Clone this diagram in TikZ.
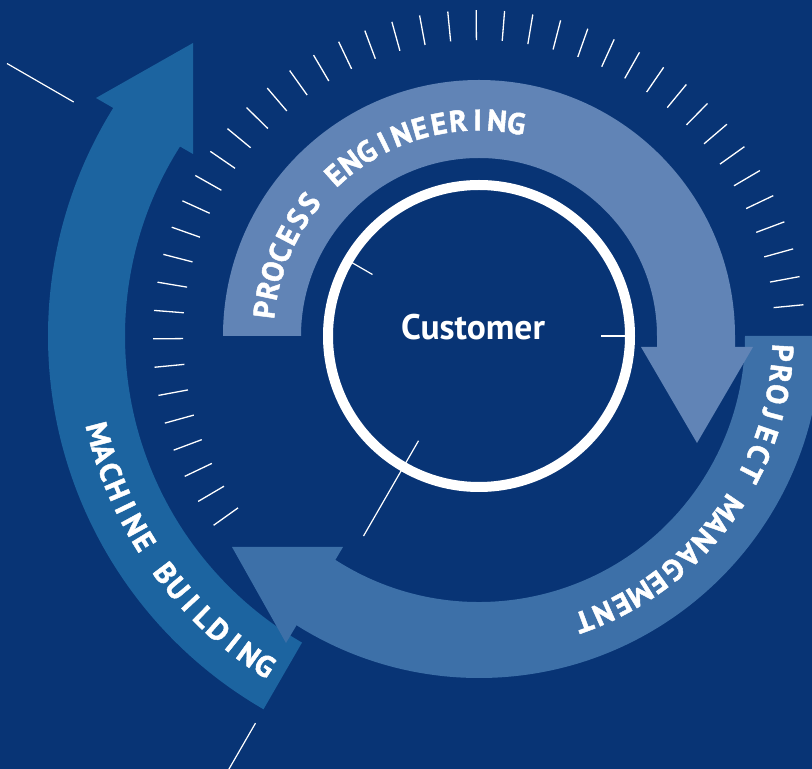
\documentclass[tikz,border=0pt]{standalone}
\usepackage{fontspec}
\setmainfont{PT Sans}
\usetikzlibrary{calc}
\definecolor{bgblue}{RGB}{8,52,117}
\definecolor{pecol}{RGB}{97,132,182}
\definecolor{pmcol}{RGB}{61,112,168}
\definecolor{mbcol}{RGB}{28,100,160}
\newlength\lbChW
\newlength\lbTotW
\newcount\lbN
\newcommand\arcfont{\normalfont\bfseries\fontsize{30pt}{32pt}\selectfont\addfontfeature{FakeBold=1.5}}
% #1 start angle, #2 end angle, #3 baseline radius, #4 advance radius, #5 rotation offset, #6 word space, #7 letters
\newcommand\arclabel[7]{%
  \global\lbTotW=0pt \global\lbN=0
  \foreach \ch in {#7}{%
    \if\ch*\global\advance\lbTotW by #6pt
    \else\settowidth\lbChW{\arcfont\ch}\global\advance\lbTotW by \lbChW\fi
    \global\advance\lbN by 1
  }%
  \pgfmathsetmacro\lbSgn{ifthenelse(#2>#1,1,-1)}%
  \pgfmathsetmacro\lbGapW{max(0,(abs(#2-#1)*pi/180*#4 - \lbTotW)/(\lbN-1))}%
  \xdef\lbCur{#1}%
  \foreach \ch in {#7}{%
    \if\ch*\setlength\lbChW{#6pt}\else\settowidth\lbChW{\arcfont\ch}\fi
    \pgfmathsetmacro\lbDa{\lbChW/#4*180/pi}%
    \pgfmathsetmacro\lbGa{\lbGapW/#4*180/pi}%
    \pgfmathsetmacro\lbMid{\lbCur+\lbSgn*\lbDa/2}%
    \pgfmathsetmacro\lbRot{\lbMid+(#5)}%
    \if\ch*\else
      \node[lbl, rotate=\lbRot] at ($(C)+(\lbMid:#3pt)$) {\arcfont\ch};%
    \fi
    \pgfmathsetmacro\lbNext{\lbCur+\lbSgn*(\lbDa+\lbGa)}%
    \xdef\lbCur{\lbNext}%
  }%
}
\begin{document}
\begin{tikzpicture}[x=1pt,y=1pt,
  lbl/.style={text=white, anchor=base, inner sep=0pt},
  tickline/.style={draw=white, line width=1.3pt},
  thinline/.style={draw=white, line width=1.2pt}]
\useasboundingbox (0,0) rectangle (812,769);
\fill[bgblue] (0,0) rectangle (812,769);
\clip (0,0) rectangle (812,769);
\coordinate (C) at (479,433);
% tick ring
\foreach \k [evaluate=\k as \ang using 5.5+5*\k] in {0,...,42}
  \draw[tickline] ($(C)+(\ang:296pt)$) -- ($(C)+(\ang:326pt)$);
% thin radial lines
\draw[thinline] ($(C)+(150:468pt)$) -- ($(C)+(150:545pt)$);
\draw[thinline] ($(C)+(150:123pt)$) -- ($(C)+(150:147pt)$);
\draw[thinline] ($(C)+(0:122pt)$) -- ($(C)+(0:147pt)$);
\draw[thinline] ($(C)+(240:121pt)$) -- ($(C)+(240:231pt)$);
\draw[thinline] ($(C)+(240:447pt)$) -- ($(C)+(240:510pt)$);
% machine building
\fill[mbcol] ($(C)+(240:431pt)$) arc[start angle=240,end angle=146,radius=431pt]
  -- ($(C)+(146:354pt)$) arc[start angle=146,end angle=240,radius=354pt] -- cycle;
\fill[mbcol] (96,671) -- (193,726) -- (193,615) -- cycle;
\arclabel{194.5}{237}{403.5}{393}{90}{-1}{M,A,C,H,I,N,E,*,B,U,I,L,D,I,N,G}
% project management
\fill[pmcol] ($(C)+(0:342pt)$) arc[start angle=0,end angle=-123.5,radius=342pt]
  -- ($(C)+(-123.5:266pt)$) arc[start angle=-123.5,end angle=0,radius=266pt] -- cycle;
\fill[pmcol] (232,222) -- (343,222) -- (286,126) -- cycle;
\arclabel{-3.2}{-69.8}{293.5}{304}{-90}{-1}{P,R,O,J,E,C,T,*,M,A,N,A,G,E,M,E,N,T}
% process engineering
\fill[pecol] ($(C)+(180:256pt)$) arc[start angle=180,end angle=0,radius=256pt]
  -- ++(0,-11) -- ($(C)+(0:178pt)+(0,-11)$) -- ($(C)+(0:178pt)$)
  arc[start angle=0,end angle=180,radius=178pt] -- cycle;
\fill[pecol] (641,422) -- (753,422) -- (697,326) -- cycle;
\arclabel{173}{80}{205.5}{216}{-90}{-1}{P,R,O,C,E,S,S,*,E,N,G,I,N,E,E,R,I,N,G}
% customer
\node[circle, draw=white, line width=10pt, minimum size=302pt, inner sep=0pt] (ring) at (C) {};
\node[text=white, anchor=base, inner sep=0pt, font=\bfseries\fontsize{35.5pt}{40pt}\selectfont] (cust) at (473,429) {Customer};
\end{tikzpicture}
\end{document}
